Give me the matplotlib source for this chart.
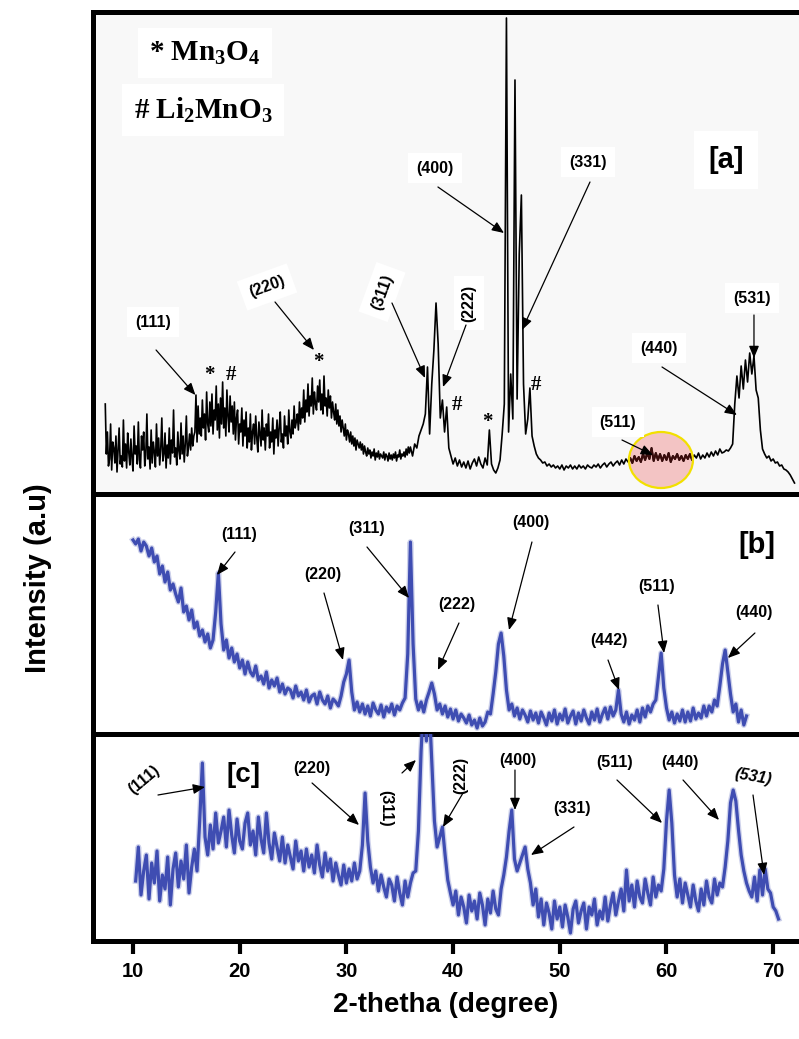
import numpy as np
import matplotlib
matplotlib.use("Agg")
import matplotlib.pyplot as plt
from matplotlib.patches import Ellipse

plt.rcParams.update({
    "font.family": ["Liberation Sans", "DejaVu Sans"],
    "font.weight": "bold",
    "mathtext.fontset": "custom",
    "mathtext.rm": "Liberation Serif:bold",
    "mathtext.it": "Liberation Serif:bold",
    "mathtext.bf": "Liberation Serif:bold",
})

# ---------------- scan [a], low-angle part: 7.4 - 35.9 deg, 0.1 deg step ----------------
A_LO_START, A_LO_STEP = 7.4, 0.1
a_counts_lo = [
    90, 40, 62, 28, 35, 70, 24, 52, 46, 31,      # 7.4
    58, 22, 44, 66, 30, 38, 27, 74, 33, 50,      # 8.4
    26, 61, 42, 29, 55, 36, 23, 68, 40, 48,      # 9.4
    30, 72, 34, 26, 58, 44, 62, 28, 39, 80,      # 10.4
    35, 47, 25, 64, 31, 52, 42, 27, 70, 38,      # 11.4
    56, 29, 45, 76, 33, 40, 61, 26, 49, 36,      # 12.4
    66, 30, 54, 41, 84, 37, 46, 29, 62, 43,      # 13.4
    35, 71, 40, 58, 32, 50, 78, 38, 47, 60,      # 14.4
    44, 66, 48, 58, 62, 99, 52, 88, 60, 76,      # 15.4
    58, 94, 66, 80, 54, 102, 70, 62, 92, 68,     # 16.4
    100, 60, 84, 74, 108, 64, 90, 56, 96, 70,    # 17.4
    112, 66, 86, 58, 104, 78, 62, 98, 72, 88,    # 18.4
    60, 92, 54, 76, 84, 50, 70, 62, 86, 48,      # 19.4
    74, 58, 82, 46, 66, 52, 80, 44, 62, 70,      # 20.4
    50, 78, 56, 42, 72, 60, 48, 84, 54, 66,      # 21.4
    44, 70, 58, 80, 46, 62, 52, 76, 40, 64,      # 22.4
    56, 74, 48, 66, 82, 52, 60, 46, 78, 58,      # 23.4
    68, 50, 84, 62, 56, 74, 60, 88, 66, 72,      # 24.4
    80, 64, 92, 70, 86, 76, 104, 72, 94, 82,     # 25.4
    110, 78, 98, 88, 116, 80, 102, 90, 84, 108,  # 26.4
    92, 114, 84, 100, 80, 118, 88, 96, 78, 104,  # 27.4
    86, 98, 76, 92, 82, 74, 90, 70, 84, 68,      # 28.4
    78, 62, 74, 66, 58, 70, 54, 64, 60, 52,      # 29.4
    62, 50, 58, 48, 56, 44, 54, 50, 46, 52,      # 30.4
    44, 50, 40, 48, 42, 38, 46, 40, 44, 36,      # 31.4
    42, 38, 45, 34, 41, 37, 43, 35, 40, 38,      # 32.4
    36, 42, 34, 40, 38, 33, 41, 35, 39, 34,      # 33.4
    40, 36, 42, 33, 39, 37, 44, 35, 40, 38,      # 34.4
    42, 37, 45, 39, 47, 41,                      # 35.4
]

# ---------------- scan [a], high-angle part: 36.0 - 72.0 deg, 0.2 deg step ----------------
A_HI_START, A_HI_STEP = 36.0, 0.2
a_counts_hi = [
    47, 38, 50, 46, 58, 64, 70, 80, 127, 60,        # 36.0
    110, 144, 191, 150, 76, 94, 62, 87, 46, 38,     # 38.0
    30, 36, 28, 34, 27, 32, 26, 33, 25, 31,         # 40.0
    35, 28, 37, 30, 26, 36, 29, 64, 30, 24,         # 42.0
    21, 26, 34, 60, 90, 476, 62, 120, 75, 414,      # 44.0
    95, 240, 299, 110, 60, 75, 106, 58, 48, 40,     # 46.0
    36, 34, 31, 32, 28, 30, 27, 29, 26, 28,         # 48.0
    25, 29, 24, 28, 26, 29, 25, 28, 25, 29,         # 50.0
    26, 28, 25, 29, 27, 26, 29, 27, 30, 26,         # 52.0
    29, 31, 27, 30, 32, 28, 31, 33, 29, 34,         # 54.0
    30, 35, 32, 36, 31, 38, 33, 37, 32, 40,         # 56.0
    34, 41, 35, 46, 33, 41, 34, 40, 33, 39,         # 58.0
    34, 41, 32, 38, 35, 40, 34, 38, 33, 39,         # 60.0
    35, 40, 34, 39, 36, 41, 35, 39, 36, 41,         # 62.0
    37, 42, 38, 43, 39, 45, 41, 42, 44, 43,         # 64.0
    46, 50, 90, 118, 96, 128, 105, 134, 112, 141,   # 66.0
    120, 138, 104, 96, 64, 45, 40, 36, 38, 33,      # 68.0
    35, 31, 32, 28, 29, 25, 24, 22, 19, 15,         # 70.0
    11,                                             # 72.0
]

# ---------------- scan [b] : 10.0 - 67.5 deg, 0.25 deg step ----------------
B_START, B_STEP = 10.0, 0.25
b_counts = [
    194, 190, 195, 183, 192, 188, 178, 186,   # 10.0
    172, 178, 160, 168, 152, 162, 144, 150,   # 12.0
    140, 132, 146, 122, 128, 114, 124, 106,   # 14.0
    112, 98, 104, 92, 100, 86, 94, 122,       # 16.0
    161, 110, 84, 94, 76, 86, 72, 80,         # 18.0
    66, 74, 60, 72, 62, 58, 68, 54,           # 20.0
    58, 50, 62, 46, 54, 48, 56, 42,           # 22.0
    50, 40, 46, 44, 36, 48, 38, 42,           # 24.0
    34, 44, 32, 38, 40, 30, 42, 34,           # 26.0
    30, 38, 26, 35, 32, 28, 38, 52,           # 28.0
    60, 74, 42, 24, 32, 22, 30, 20,           # 30.0
    28, 18, 31, 24, 20, 29, 17, 27,           # 32.0
    22, 30, 19, 28, 24, 31, 36, 80,           # 34.0
    192, 90, 35, 24, 32, 22, 34, 42,          # 36.0
    51, 40, 24, 30, 20, 28, 17, 25,           # 38.0
    15, 24, 13, 20, 16, 11, 19, 9,            # 40.0
    14, 6, 16, 8, 12, 22, 20, 40,             # 42.0
    62, 90, 101, 78, 44, 24, 30, 18,          # 44.0
    26, 15, 24, 19, 12, 23, 14, 21,           # 46.0
    11, 22, 16, 9, 21, 13, 24, 10,            # 48.0
    20, 14, 25, 11, 18, 23, 10, 21,           # 50.0
    13, 24, 16, 10, 22, 14, 25, 12,           # 52.0
    20, 26, 15, 27, 18, 24, 44, 20,           # 54.0
    12, 22, 10, 19, 14, 24, 12, 26,           # 56.0
    17, 28, 22, 30, 34, 58, 81, 46,           # 58.0
    26, 14, 22, 11, 20, 13, 24, 12,           # 60.0
    22, 13, 26, 15, 21, 16, 28, 18,           # 62.0
    28, 22, 34, 28, 48, 70, 84, 62,           # 64.0
    40, 22, 30, 12, 24, 9, 18,                # 66.0
]

# ---------------- scan [c] : 10.25 - 70.5 deg, 0.25 deg step ----------------
C_START, C_STEP = 10.25, 0.25
c_counts = [
    60, 94, 46, 70, 86, 42, 78, 58,           # 10.25
    90, 40, 66, 52, 84, 36, 72, 88,           # 12.25
    54, 80, 62, 96, 48, 74, 92, 70,           # 14.25
    120, 178, 104, 86, 116, 92, 128, 98,      # 16.25
    110, 124, 94, 131, 106, 88, 122, 100,     # 18.25
    92, 118, 128, 96, 110, 86, 124, 102,      # 20.25
    88, 128, 98, 82, 108, 94, 80, 104,        # 22.25
    78, 96, 84, 72, 100, 80, 90, 70,          # 24.25
    92, 74, 86, 68, 96, 76, 64, 88,           # 26.25
    70, 82, 60, 78, 66, 56, 76, 58,           # 28.25
    72, 60, 78, 62, 70, 96, 148, 100,         # 30.25
    74, 58, 70, 50, 66, 54, 44, 62,           # 32.25
    56, 40, 64, 48, 36, 60, 44, 58,           # 34.25
    68, 70, 110, 190, 240, 200, 240, 180,     # 36.25
    120, 94, 104, 114, 86, 61, 48, 36,        # 38.25
    50, 26, 44, 34, 18, 46, 30, 40,           # 40.25
    22, 48, 36, 16, 42, 28, 50, 32,           # 42.25
    26, 52, 66, 84, 110, 131, 82, 70,         # 44.25
    78, 86, 94, 72, 58, 36, 52, 24,           # 46.25
    42, 16, 38, 28, 12, 40, 22, 34,           # 48.25
    14, 36, 24, 8, 32, 40, 18, 30,            # 50.25
    38, 12, 34, 26, 42, 16, 30, 22,           # 52.25
    44, 20, 36, 48, 26, 40, 52, 30,           # 54.25
    71, 40, 56, 34, 60, 44, 38, 62,           # 56.25
    48, 36, 64, 44, 56, 50, 72, 120,          # 58.25
    151, 118, 66, 44, 62, 38, 58, 46,         # 60.25
    34, 56, 40, 30, 52, 36, 60, 44,           # 62.25
    38, 62, 46, 58, 54, 74, 100, 138,         # 64.25
    151, 140, 111, 86, 70, 58, 50, 44,        # 66.25
    64, 40, 71, 46, 72, 52, 48, 34,           # 68.25
    30, 22,                                   # 70.25
]

# Miller-index callouts: (text, label x, label y, rotation, arrow tail, arrow tip)
a_notes = [
    ("(111)", 11.87, 172, 0, (12.16, 144), (15.85, 99)),
    ("(220)", 22.56, 207, 20, (23.31, 192), (26.96, 144)),
    ("(311)", 33.34, 202, 70, (34.27, 191), (37.37, 116)),
    ("(222)", 41.49, 191, 90, (41.21, 169), (39.05, 107)),
    ("(400)", 38.30, 326, 0, (38.58, 307), (44.77, 261)),
    ("(331)", 52.64, 332, 0, (52.83, 312), (46.46, 164)),
    ("(531)", 68.01, 196, 0, (68.20, 179), (68.20, 136)),
    ("(440)", 59.30, 146, 0, (59.58, 127), (66.60, 79)),
    ("(511)", 55.45, 72, 0, (55.83, 54), (58.73, 39)),
]
# phase markers: (symbol, x, y)
a_marks = [("*", 17.12, 119), ("#", 19.18, 119), ("*", 27.34, 132),
           ("#", 40.37, 89), ("*", 43.18, 72), ("#", 47.77, 109)]

b_notes = [
    ("(111)", 19.93, 199, 0, (19.56, 182), (17.87, 159)),
    ("(220)", 27.81, 159, 0, (27.90, 141), (29.68, 74)),
    ("(311)", 31.93, 206, 0, (31.93, 187), (35.87, 136)),
    ("(222)", 40.37, 129, 0, (40.55, 111), (38.58, 64)),
    ("(400)", 47.30, 211, 0, (47.39, 192), (45.24, 104)),
    ("(442)", 54.61, 94, 0, (54.52, 74), (55.55, 44)),
    ("(511)", 59.11, 147, 0, (59.20, 129), (59.77, 81)),
    ("(440)", 68.20, 121, 0, (68.29, 101), (65.76, 76)),
]

c_notes = [
    ("(111)", 11.03, 161, 40, (12.34, 146), (16.75, 154)),
    ("(220)", 26.78, 173, 0, (26.78, 158), (31.18, 116)),
    ("(311)", 33.71, 133, -90, (35.21, 168), (36.52, 181)),
    ("(222)", 40.74, 166, 90, (40.93, 148), (39.05, 114)),
    ("(400)", 46.08, 181, 0, (45.80, 171), (45.80, 131)),
    ("(331)", 51.14, 133, 0, (51.33, 114), (47.30, 86)),
    ("(511)", 55.17, 179, 0, (55.36, 161), (59.58, 118)),
    ("(440)", 61.27, 179, 0, (61.55, 161), (64.92, 121)),
    ("(531)", 68.11, 164, -10, (68.11, 146), (69.14, 66)),
]

x_ticks = [10, 20, 30, 40, 50, 60, 70]
X_LIM = (6.25, 72.42)

BLUE = "#3f4db2"
FRAME_LW = 3.6
LABEL_FS = 11.5


def angles(start, step, counts):
    return start + step * np.arange(len(counts))


def callouts(ax, notes, boxed=False, fs=LABEL_FS):
    for text, tx, ty, rot, tail, tip in notes:
        style = "italic" if (text == "(531)" and rot == -10) else "normal"
        kw = {}
        if boxed:
            kw["bbox"] = dict(boxstyle="square,pad=0.5", fc="white", ec="none")
        ax.text(tx, ty, text, ha="center", va="center", rotation=rot,
                fontsize=fs, fontweight="bold", fontstyle=style, zorder=6, **kw)
        ax.annotate("", xy=tip, xytext=tail, zorder=7,
                    arrowprops=dict(arrowstyle="-|>,head_length=0.6,head_width=0.25",
                                    lw=0.9, color="black", shrinkA=0, shrinkB=0,
                                    mutation_scale=12))


def blue_trace(ax, x, y):
    ax.plot(x, y, color=BLUE, lw=4.2, alpha=0.25, zorder=2, solid_joinstyle="round")
    ax.plot(x, y, color=BLUE, lw=2.3, zorder=3, solid_joinstyle="round")


fig = plt.figure(figsize=(7.99, 10.39), dpi=100)
left, width = 93 / 799, 706 / 799
ax_a = fig.add_axes([left, 1 - 494 / 1039, width, 482 / 1039])
ax_b = fig.add_axes([left, 1 - 734 / 1039, width, 240 / 1039])
ax_c = fig.add_axes([left, 1 - 941 / 1039, width, 207 / 1039])

for ax, top in ((ax_a, 482), (ax_b, 240), (ax_c, 207)):
    ax.set_xlim(*X_LIM)
    ax.set_ylim(0, top)
    ax.set_yticks([])
    for side in ("left", "top", "bottom", "right"):
        ax.spines[side].set_linewidth(FRAME_LW)
        ax.spines[side].set_color("black")
        ax.spines[side].set_zorder(10)
    ax.spines["right"].set_visible(False)
    if ax is not ax_a:
        ax.spines["top"].set_visible(False)
        ax.set_facecolor("none")
    if ax is not ax_c:
        ax.set_xticks([])

# ---- panel [a]
ax_a.set_facecolor("#f8f8f8")
xa = np.concatenate([angles(A_LO_START, A_LO_STEP, a_counts_lo),
                     angles(A_HI_START, A_HI_STEP, a_counts_hi)])
ya = np.array(a_counts_lo + a_counts_hi)
ax_a.plot(xa, ya, color="black", lw=1.2, zorder=3)
ax_a.add_patch(Ellipse((59.48, 34), 6.0, 56, facecolor="#f3c4c4",
                       edgecolor="none", zorder=2))
inner, = ax_a.plot(xa, ya, color="#3a0c0c", lw=1.5, zorder=4)
inner.set_clip_path(Ellipse((59.48, 34), 6.0, 56, transform=ax_a.transData))
ax_a.add_patch(Ellipse((59.48, 34), 6.0, 56, facecolor="none",
                       edgecolor="#f2e000", lw=1.6, zorder=5))
callouts(ax_a, a_notes, boxed=True)
for sym, mx, my in a_marks:
    ax_a.text(mx, my, sym, ha="center", va="center", fontsize=15,
              family=["Liberation Serif"], fontweight="bold", zorder=6)
ax_a.text(65.58, 334, "[a]", ha="center", va="center", fontsize=21,
          fontweight="bold", zorder=6,
          bbox=dict(boxstyle="square,pad=0.5", fc="white", ec="none"))
ax_a.text(16.75, 441, r"* Mn$_3$O$_4$", ha="center", va="center", fontsize=21,
          family=["Liberation Serif"], fontweight="bold",
          bbox=dict(boxstyle="square,pad=0.4", fc="white", ec="none"))
ax_a.text(16.56, 384, r"# Li$_2$MnO$_3$", ha="center", va="center", fontsize=21,
          family=["Liberation Serif"], fontweight="bold",
          bbox=dict(boxstyle="square,pad=0.4", fc="white", ec="none"))

# ---- panel [b]
xb = angles(B_START, B_STEP, b_counts)
blue_trace(ax_b, xb, b_counts)
callouts(ax_b, b_notes)
ax_b.text(68.48, 189, "[b]", ha="center", va="center", fontsize=21,
          fontweight="bold")

# ---- panel [c]
xc = angles(C_START, C_STEP, c_counts)
blue_trace(ax_c, xc, c_counts)
callouts(ax_c, c_notes)
ax_c.text(20.4, 166, "[c]", ha="center", va="center", fontsize=20,
          fontweight="bold")

ax_c.set_xticks(x_ticks)
ax_c.set_xticklabels([str(t) for t in x_ticks], fontsize=14.5, fontweight="bold")
ax_c.tick_params(axis="x", direction="out", length=9, width=3, pad=6)
ax_c.set_xlabel("2-thetha (degree)", fontsize=20, fontweight="bold", labelpad=8)

fig.text(38 / 799, 1 - 578 / 1039, "Intensity (a.u)", rotation=90,
         ha="center", va="center", fontsize=21, fontweight="bold")

fig.savefig("out.png", dpi=100, facecolor="white")
